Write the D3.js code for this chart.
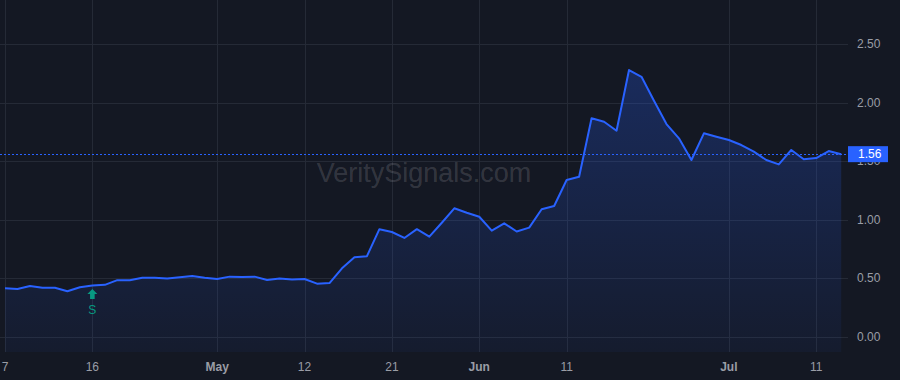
<!DOCTYPE html>
<html>
<head>
<meta charset="utf-8">
<script src="https://cdn.jsdelivr.net/npm/d3@7"></script>
<style>
  html, body { margin: 0; padding: 0; background: #141823; }
  svg { display: block; }
  text { font-family: "Liberation Sans", Arial, sans-serif; }
</style>
</head>
<body>
<div id="chartDiv"></div>
<script>
// trading days, Apr 7 - Jul 15
var dates = [
  '2025-04-07','2025-04-08','2025-04-09','2025-04-10','2025-04-11','2025-04-14','2025-04-15','2025-04-16',
  '2025-04-17','2025-04-21','2025-04-22','2025-04-23','2025-04-24','2025-04-25','2025-04-28','2025-04-29',
  '2025-04-30','2025-05-01','2025-05-02','2025-05-05','2025-05-06','2025-05-07','2025-05-08','2025-05-09',
  '2025-05-12','2025-05-13','2025-05-14','2025-05-15','2025-05-16','2025-05-19','2025-05-20','2025-05-21',
  '2025-05-22','2025-05-23','2025-05-27','2025-05-28','2025-05-29','2025-05-30','2025-06-02','2025-06-03',
  '2025-06-04','2025-06-05','2025-06-06','2025-06-09','2025-06-10','2025-06-11','2025-06-12','2025-06-13',
  '2025-06-16','2025-06-17','2025-06-18','2025-06-20','2025-06-23','2025-06-24','2025-06-25','2025-06-26',
  '2025-06-27','2025-06-30','2025-07-01','2025-07-02','2025-07-03','2025-07-07','2025-07-08','2025-07-09',
  '2025-07-10','2025-07-11','2025-07-14','2025-07-15'
];

var closes = [
  0.415, 0.41, 0.435, 0.42, 0.42, 0.39, 0.425, 0.44,
  0.445, 0.485, 0.485, 0.505, 0.505, 0.50, 0.51, 0.52,
  0.505, 0.495, 0.515, 0.512, 0.515, 0.486, 0.50, 0.49,
  0.495, 0.455, 0.46, 0.586, 0.68, 0.69, 0.92, 0.896,
  0.845, 0.92, 0.856, 0.975, 1.098, 1.06, 1.026, 0.907,
  0.97, 0.90, 0.933, 1.09, 1.118, 1.34, 1.368, 1.866,
  1.837, 1.76, 2.278, 2.22, 2.016, 1.817, 1.695, 1.51,
  1.738, 1.709, 1.681, 1.638, 1.581, 1.51, 1.473, 1.596,
  1.516, 1.527, 1.587, 1.56
];

var xTicks = [
  { date: '2025-04-07', label: '7', month: false },
  { date: '2025-04-16', label: '16', month: false },
  { date: '2025-05-01', label: 'May', month: true },
  { date: '2025-05-12', label: '12', month: false },
  { date: '2025-05-21', label: '21', month: false },
  { date: '2025-06-02', label: 'Jun', month: true },
  { date: '2025-06-11', label: '11', month: false },
  { date: '2025-07-01', label: 'Jul', month: true },
  { date: '2025-07-11', label: '11', month: false }
];
var yTicks = [0, 0.5, 1, 1.5, 2, 2.5];
var lastPrice = 1.56;
var signals = [{ date: '2025-04-16', label: 'S' }];
var watermark = 'VeritySignals.com';

var w = 900,
  h = 380,
  plotRight = 848,
  plotBottom = 352;

var data = dates.map(function(d, i) { return { date: d, value: closes[i] }; });

var svg = d3.select('#chartDiv').append('svg')
  .attr('width', w)
  .attr('height', h);

svg.append('rect')
  .attr('width', w)
  .attr('height', h)
  .attr('fill', '#141823');

var xScale = d3.scalePoint()
  .domain(dates)
  .range([5, 841.2]);

var yScale = d3.scaleLinear()
  .domain([0, 2.5])
  .range([337, 44]);

// grid
var grid = svg.append('g');
grid.selectAll('.hgrid')
  .data(yTicks)
  .enter().append('line')
    .attr('x1', 0)
    .attr('x2', plotRight)
    .attr('y1', function(d) { return Math.round(yScale(d)) + 0.5; })
    .attr('y2', function(d) { return Math.round(yScale(d)) + 0.5; })
    .attr('stroke', '#252a36');
grid.selectAll('.vgrid')
  .data(xTicks)
  .enter().append('line')
    .attr('x1', function(d) { return Math.round(xScale(d.date)) + 0.5; })
    .attr('x2', function(d) { return Math.round(xScale(d.date)) + 0.5; })
    .attr('y1', 0)
    .attr('y2', plotBottom)
    .attr('stroke', '#252a36');

// watermark
svg.append('text')
  .attr('x', 424)
  .attr('y', 182)
  .attr('text-anchor', 'middle')
  .attr('font-size', 27)
  .attr('fill', '#ffffff')
  .attr('fill-opacity', 0.15)
  .text(watermark);

// area fill
var defs = svg.append('defs');
var grad = defs.append('linearGradient')
  .attr('id', 'areaGrad')
  .attr('gradientUnits', 'userSpaceOnUse')
  .attr('x1', 0).attr('x2', 0)
  .attr('y1', yScale(d3.max(closes)))
  .attr('y2', plotBottom);
grad.append('stop').attr('offset', 0).attr('stop-color', '#2962ff').attr('stop-opacity', 0.26);
grad.append('stop').attr('offset', 1).attr('stop-color', '#2962ff').attr('stop-opacity', 0.05);

var area = d3.area()
  .x(function(d) { return xScale(d.date); })
  .y0(plotBottom)
  .y1(function(d) { return yScale(d.value); });

svg.append('path')
  .datum(data)
  .attr('d', area)
  .attr('fill', 'url(#areaGrad)');

// last price line
svg.append('line')
  .attr('x1', 0)
  .attr('x2', plotRight)
  .attr('y1', Math.round(yScale(lastPrice)) + 0.5)
  .attr('y2', Math.round(yScale(lastPrice)) + 0.5)
  .attr('stroke', '#2962ff')
  .attr('stroke-dasharray', '2,2');

var line = d3.line()
  .x(function(d) { return xScale(d.date); })
  .y(function(d) { return yScale(d.value); });

svg.append('path')
  .datum(data)
  .attr('d', line)
  .attr('fill', 'none')
  .attr('stroke', '#2962ff')
  .attr('stroke-width', 2)
  .attr('stroke-linejoin', 'round');

// signal markers
var sig = svg.selectAll('.signal')
  .data(signals)
  .enter().append('g')
    .attr('transform', function(d) { return 'translate(' + xScale(d.date) + ',289)'; });
sig.append('path')
  .attr('d', 'M0,0L5,5L2.3,5L2.3,10L-2.3,10L-2.3,5L-5,5Z')
  .attr('fill', '#089981');
sig.append('text')
  .attr('y', 25)
  .attr('text-anchor', 'middle')
  .attr('font-size', 12)
  .attr('fill', '#089981')
  .text(function(d) { return d.label; });

// x labels
svg.selectAll('.xlabel')
  .data(xTicks)
  .enter().append('text')
    .attr('x', function(d) { return xScale(d.date); })
    .attr('y', 371)
    .attr('text-anchor', 'middle')
    .attr('font-size', 12)
    .attr('font-weight', function(d) { return d.month ? 'bold' : 'normal'; })
    .attr('fill', '#9a9da6')
    .text(function(d) { return d.label; });

// y labels
svg.selectAll('.ylabel')
  .data(yTicks)
  .enter().append('text')
    .attr('x', 857)
    .attr('y', function(d) { return yScale(d) + 4; })
    .attr('font-size', 12)
    .attr('fill', '#9a9da6')
    .text(function(d) { return d3.format('.2f')(d); });

// price tag
var py = yScale(lastPrice);
svg.append('rect')
  .attr('x', plotRight)
  .attr('y', py - 8)
  .attr('width', 40)
  .attr('height', 16)
  .attr('fill', '#2962ff');
svg.append('text')
  .attr('x', 858)
  .attr('y', py + 4)
  .attr('font-size', 12)
  .attr('fill', '#ffffff')
  .text(d3.format('.2f')(lastPrice));
</script>
</body>
</html>
